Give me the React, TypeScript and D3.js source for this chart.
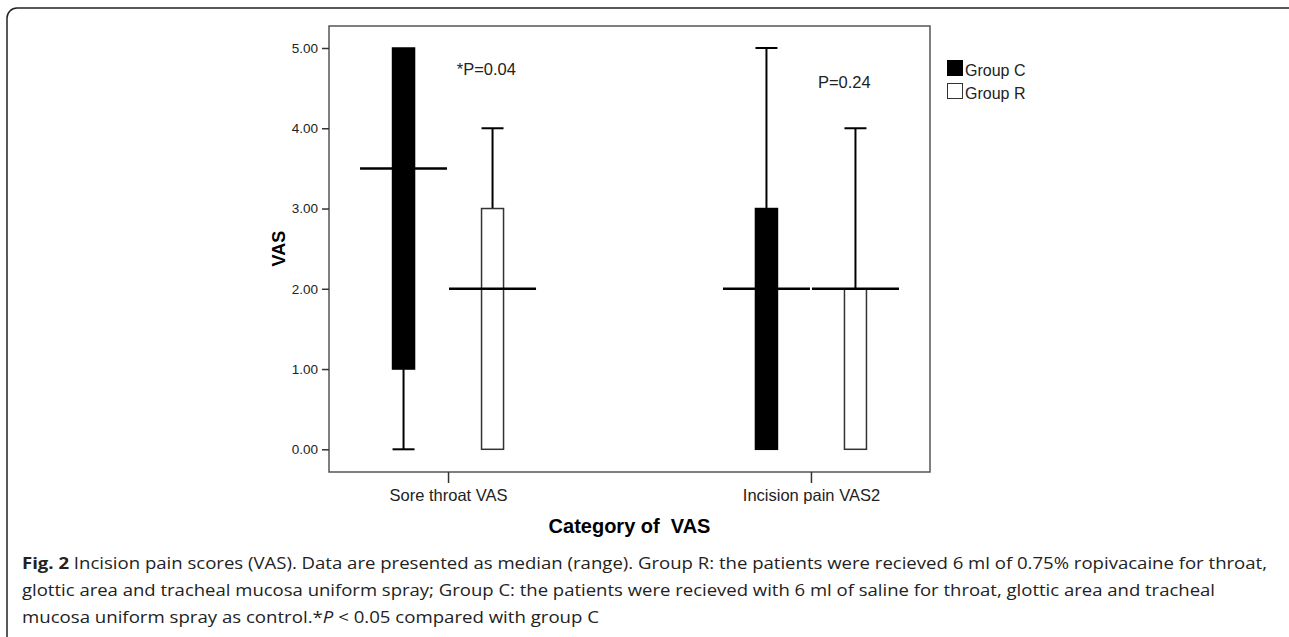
import { useRef, useEffect } from 'react'
import * as d3 from 'd3'

// categories and groups
const categories = ['Sore throat VAS', 'Incision pain VAS2']
const groups = ['Group C', 'Group R']
const groupFill = ['#000000', '#ffffff']

// median (range) summaries per category, same order as groups
const mins = [[0, 0], [0, 0]]
const lowers = [[1, 0], [0, 0]]
const medians = [[3.5, 2], [2, 2]]
const uppers = [[5, 3], [3, 2]]
const maxs = [[5, 4], [5, 4]]

const pLabels = ['*P=0.04', 'P=0.24']
const yTicks = [0, 1, 2, 3, 4, 5]

const captionLines = [
    'Incision pain scores (VAS). Data are presented as median (range). Group R: the patients were recieved 6 ml of 0.75% ropivacaine for throat,',
    'glottic area and tracheal mucosa uniform spray; Group C: the patients were recieved with 6 ml of saline for throat, glottic area and tracheal',
]

const FONT = 'Liberation Sans, Arial, sans-serif'
const CAP_FONT = '"Open Sans", "Noto Sans", sans-serif'

export default function App() {
    const svgRef = useRef<SVGSVGElement>(null)

    useEffect(() => {
        if (!svgRef.current) return
        const svg = d3.select(svgRef.current)
        svg.selectAll('*').remove()

        const left = 329, right = 930, top = 26, bottom = 472

        // outer figure frame
        svg.append('rect')
            .attr('x', 7).attr('y', 8)
            .attr('width', 1292).attr('height', 640)
            .attr('rx', 10)
            .style('fill', 'none')
            .style('stroke', '#222')
            .style('stroke-width', 1.5)

        const x = d3.scalePoint<string>()
            .domain(categories)
            .range([left, right])
            .padding(0.328)

        const gx = d3.scalePoint<string>()
            .domain(groups)
            .range([-44.5, 44.5])

        const y = d3.scaleLinear()
            .domain([0, 5])
            .range([449.3, 48])

        // plot frame
        svg.append('rect')
            .attr('x', left).attr('y', top)
            .attr('width', right - left).attr('height', bottom - top)
            .style('fill', 'none')
            .style('stroke', '#555')
            .style('stroke-width', 1.5)

        // Y axis
        const yAxis = svg.append('g')
            .attr('transform', `translate(${left},0)`)
            .call(d3.axisLeft(y).tickValues(yTicks).tickFormat(d3.format('.2f')).tickSize(7).tickPadding(4))
        yAxis.select('.domain').remove()
        yAxis.selectAll('.tick line').style('stroke', '#333').style('stroke-width', 1.5)
        yAxis.selectAll('text')
            .style('fill', '#222')
            .style('font-size', '13.5px')
            .style('font-family', FONT)

        // X axis
        const xAxis = svg.append('g')
            .attr('transform', `translate(0,${bottom})`)
            .call(d3.axisBottom(x).tickSize(11).tickPadding(6))
        xAxis.select('.domain').remove()
        xAxis.selectAll('.tick line').style('stroke', '#333').style('stroke-width', 1.5)
        xAxis.selectAll('text')
            .style('fill', '#222')
            .style('font-size', '16.5px')
            .style('font-family', FONT)

        // axis titles
        svg.append('text')
            .attr('x', (left + right) / 2)
            .attr('y', 533)
            .attr('text-anchor', 'middle')
            .style('font-family', FONT)
            .style('font-weight', 'bold')
            .style('font-size', '20px')
            .style('white-space', 'pre')
            .text('Category of  VAS')

        svg.append('text')
            .attr('transform', `translate(285,${(y(0) + y(5)) / 2}) rotate(-90)`)
            .attr('text-anchor', 'middle')
            .style('font-family', FONT)
            .style('font-weight', 'bold')
            .style('font-size', '18px')
            .text('VAS')

        const boxW = 22, capW = 22, medW = 87

        categories.forEach((cat, ci) => {
            const cx0 = x(cat) as number
            groups.forEach((grp, gi) => {
                const cx = cx0 + (gx(grp) as number)
                const g = svg.append('g')
                const lo = lowers[ci][gi], hi = uppers[ci][gi]
                const mn = mins[ci][gi], mx = maxs[ci][gi]

                // whiskers
                if (mx > hi) {
                    g.append('line')
                        .attr('x1', cx).attr('x2', cx)
                        .attr('y1', y(hi)).attr('y2', y(mx))
                        .style('stroke', '#000').style('stroke-width', 2)
                    g.append('line')
                        .attr('x1', cx - capW / 2).attr('x2', cx + capW / 2)
                        .attr('y1', y(mx)).attr('y2', y(mx))
                        .style('stroke', '#000').style('stroke-width', 2)
                }
                if (mn < lo) {
                    g.append('line')
                        .attr('x1', cx).attr('x2', cx)
                        .attr('y1', y(lo)).attr('y2', y(mn))
                        .style('stroke', '#000').style('stroke-width', 2)
                    g.append('line')
                        .attr('x1', cx - capW / 2).attr('x2', cx + capW / 2)
                        .attr('y1', y(mn)).attr('y2', y(mn))
                        .style('stroke', '#000').style('stroke-width', 2)
                }

                // box
                g.append('rect')
                    .attr('x', cx - boxW / 2)
                    .attr('y', y(hi))
                    .attr('width', boxW)
                    .attr('height', y(lo) - y(hi))
                    .style('fill', groupFill[gi])
                    .style('stroke', gi === 0 ? '#000' : '#333')
                    .style('stroke-width', 1.5)

                // median
                g.append('line')
                    .attr('x1', cx - medW / 2).attr('x2', cx + medW / 2)
                    .attr('y1', y(medians[ci][gi])).attr('y2', y(medians[ci][gi]))
                    .style('stroke', '#000').style('stroke-width', 2.5)
            })

            // p value annotation
            svg.append('text')
                .attr('x', cx0 + (ci === 0 ? 8.7 : 7))
                .attr('y', ci === 0 ? 75 : 88)
                .style('font-family', FONT)
                .style('font-size', '16.5px')
                .style('fill', '#222')
                .text(pLabels[ci])
        })

        // legend
        const legend = svg.append('g').attr('transform', 'translate(947,60)')
        groups.forEach((grp, i) => {
            legend.append('rect')
                .attr('x', 0.5).attr('y', i * 23 + 0.5)
                .attr('width', 15).attr('height', 15)
                .style('fill', groupFill[i])
                .style('stroke', i === 0 ? '#000' : '#333')
                .style('stroke-width', 1)
            legend.append('text')
                .attr('x', 18).attr('y', i * 23 + 15.5)
                .style('font-family', FONT)
                .style('font-size', '16px')
                .style('fill', '#222')
                .text(grp)
        })

        // caption
        const cap = svg.append('g').style('font-family', CAP_FONT).style('font-size', '16px').style('fill', '#222')
        const l1 = cap.append('text')
            .attr('x', 22).attr('y', 569)
            .attr('textLength', 1245).attr('lengthAdjust', 'spacingAndGlyphs')
        l1.append('tspan').style('font-weight', 'bold').text('Fig. 2')
        l1.append('tspan').text(' ' + captionLines[0])

        cap.append('text')
            .attr('x', 22).attr('y', 596)
            .attr('textLength', 1193).attr('lengthAdjust', 'spacingAndGlyphs')
            .text(captionLines[1])

        const l3 = cap.append('text')
            .attr('x', 22).attr('y', 623)
            .attr('textLength', 577).attr('lengthAdjust', 'spacingAndGlyphs')
        l3.append('tspan').text('mucosa uniform spray as control.*')
        l3.append('tspan').style('font-style', 'italic').text('P')
        l3.append('tspan').text(' < 0.05 compared with group C')
    }, [])

    return (
        <svg
            ref={svgRef}
            width={1289}
            height={637}
            style={{ position: 'absolute', left: 0, top: 0, background: '#fff' }}
        />
    )
}
